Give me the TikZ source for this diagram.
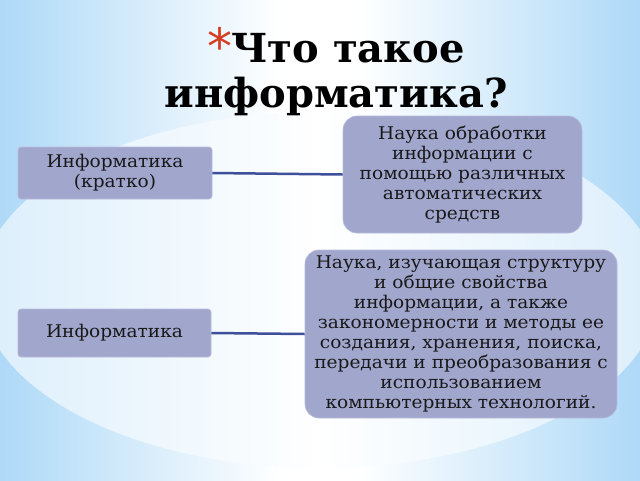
\documentclass[tikz,border=0pt]{standalone}
\usepackage{fontspec}
\setmainfont[FakeStretch=1.06]{DejaVu Serif}
\newfontfamily\titlefont{DejaVu Serif}
\newfontfamily\bulletfont{DejaVu Sans}
\usetikzlibrary{positioning}
\definecolor{skyblue}{RGB}{160,210,246}
\definecolor{boxfill}{RGB}{161,166,205}
\definecolor{linkblue}{RGB}{62,80,155}
\definecolor{bulletred}{RGB}{214,62,36}
\pgfdeclarehorizontalshading{skyband}{100bp}{color(0bp)=(skyblue); color(25bp)=(skyblue!85!white); color(47bp)=(white); color(53bp)=(white); color(75bp)=(skyblue!85!white); color(100bp)=(skyblue)}
\pgfdeclarehorizontalshading{glowband}{100bp}{color(0bp)=(skyblue!75!white); color(30bp)=(skyblue!30!white); color(50bp)=(white); color(70bp)=(skyblue!30!white); color(100bp)=(skyblue!75!white)}

\begin{document}
\begin{tikzpicture}[x=1pt,y=-1pt,
    box/.style={draw=boxfill!75!white, line width=0.6pt, fill=boxfill, text=black!90,
      align=center, inner sep=0pt, font=\fontsize{17.5}{20}\selectfont},
    link/.style={draw=linkblue, line width=2.5pt}]
  \useasboundingbox (0,0) rectangle (640,480);
  % background
  \shade[shading=skyband] (0,0) rectangle (640,480);
  \shade[shading=glowband] (320,290) ellipse [x radius=340, y radius=178];

  % title
  \node[font=\titlefont\fontsize{40}{45}\selectfont\bfseries, align=center, anchor=base] (title) at (336,107)
    {{\bulletfont\mdseries\fontsize{50}{45}\selectfont\color{bulletred}\raisebox{-2pt}{*}}\kern-1pt Что такое\\информатика?};

  % terms and definitions
  \node[box, minimum width=194, minimum height=52, rounded corners=3pt] (short) at (115,173)
    {Информатика\\(кратко)};
  \node[box, minimum width=239, minimum height=117, rounded corners=14pt] (shortdef) at (462.5,174.5)
    {Наука обработки\\информации с\\помощью различных\\автоматических\\средств};
  \node[box, minimum width=193, minimum height=48, rounded corners=3pt] (full) at (114.5,333)
    {Информатика};
  \node[box, minimum width=312, minimum height=168, rounded corners=14pt] (fulldef) at (461,334)
    {Наука, изучающая структуру\\и общие свойства\\информации, а также\\закономерности и методы ее\\создания, хранения, поиска,\\передачи и преобразования с\\использованием\\компьютерных технологий.};

  \draw[link] (short.east) -- (shortdef.west);
  \draw[link] (full.east) -- (fulldef.west);
\end{tikzpicture}
\end{document}
